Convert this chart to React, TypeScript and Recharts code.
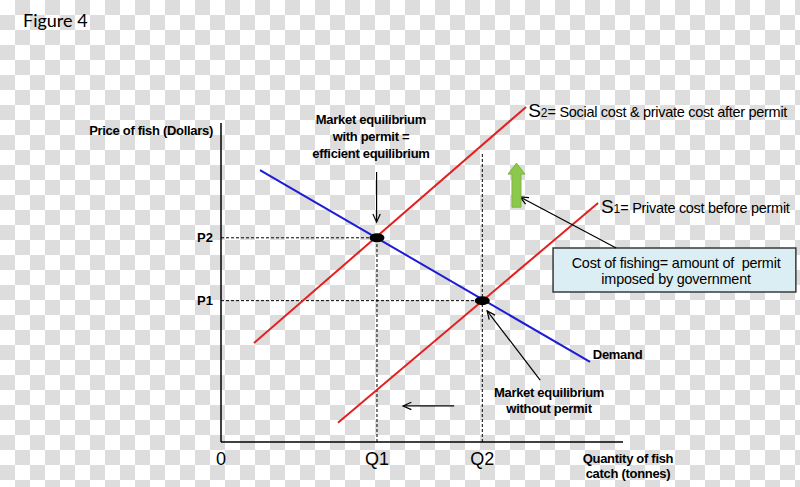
import React from 'react';
import {
  ComposedChart, Line, XAxis, YAxis, ReferenceLine, ReferenceDot, ReferenceArea,
} from 'recharts';

const FONT = '"Liberation Sans", Arial, sans-serif';

// equilibrium quantities / prices
const Q1 = 38.8;
const Q2 = 65;
const P1 = 44.3;
const P2 = 64;

const xTicks = [0, Q1, Q2];
const xTickLabels = ['0', 'Q1', 'Q2'];
const yTicks = [P1, P2];
const yTickLabels = ['P1', 'P2'];

// curve end points (quantity, price)
const demandQ = [9.7, 91.8];
const demandP = [85.2, 25.1];
const s2Q = [8.2, 75.9];
const s2P = [31.0, 105.0];
const s1Q = [29.1, 93.8];
const s1P = [6.0, 74.9];

const toRows = (qs: number[], ps: number[]) => qs.map((q, i) => ({ q, p: ps[i] }));

const demandData = toRows(demandQ, demandP);
const s2Data = toRows(s2Q, s2P);
const s1Data = toRows(s1Q, s1P);

const arrow = (props: any) => {
  const { x1, y1, x2, y2 } = props;
  const a = Math.atan2(y2 - y1, x2 - x1);
  const len = 9;
  const sp = 0.42;
  const pts = [
    [x2 - len * Math.cos(a - sp), y2 - len * Math.sin(a - sp)],
    [x2, y2],
    [x2 - len * Math.cos(a + sp), y2 - len * Math.sin(a + sp)],
  ].map((p) => p.join(',')).join(' ');
  return (
    <g>
      <line x1={x1} y1={y1} x2={x2} y2={y2} stroke="#000" strokeWidth={1.2} />
      <polyline points={pts} fill="none" stroke="#000" strokeWidth={1.2} />
    </g>
  );
};

const blockArrow = (props: any) => {
  const { x1, y1, x2, y2 } = props;
  const sw = 4.5;
  const hw = 8.5;
  const hl = 11;
  const pts = [
    [x2, y2], [x2 + hw, y2 + hl], [x2 + sw, y2 + hl], [x1 + sw, y1],
    [x1 - sw, y1], [x2 - sw, y2 + hl], [x2 - hw, y2 + hl],
  ].map((p) => p.join(',')).join(' ');
  return <polygon points={pts} fill="#8cc84b" stroke="#7db543" strokeWidth={1} />;
};

const ellipse = (props: any) => (
  <ellipse cx={props.cx} cy={props.cy} rx={7.5} ry={4.5} fill="#000" />
);

const textShape = (lines: string[], opts: any = {}) => (props: any) => (
  <text
    x={props.cx}
    y={props.cy}
    textAnchor={opts.anchor || 'middle'}
    fontFamily={FONT}
    fontSize={opts.size || 13}
    fontWeight={opts.weight || 'bold'}
    letterSpacing={opts.ls ?? -0.3}
    fill="#000"
    style={{ whiteSpace: 'pre' }}
  >
    {lines.map((l, i) => (
      <tspan key={i} x={props.cx} dy={i ? opts.lh || 17 : 0}>{l}</tspan>
    ))}
  </text>
);

const supplyLabel = (num: string, rest: string) => (props: any) => (
  <text x={props.cx} y={props.cy} fontFamily={FONT} fill="#000">
    <tspan fontSize={19}>S</tspan>
    <tspan fontSize={12}>{num}</tspan>
    <tspan fontSize={14.5} letterSpacing={-0.3}>{rest}</tspan>
  </text>
);

const checker = {
  backgroundColor: '#fff',
  backgroundImage: 'conic-gradient(#dddddd 25%, #ffffff 0 50%, #dddddd 0 75%, #ffffff 0)',
  backgroundSize: '30px 30px',
};

export default function App() {
  return (
    <div style={{ position: 'absolute', left: 0, top: 0, width: 800, height: 487, ...checker }}>
      <ComposedChart
        width={800}
        height={487}
        margin={{ top: 91, right: 177, bottom: 15, left: 161 }}
      >
        <XAxis
          type="number"
          dataKey="q"
          domain={[0, 100]}
          ticks={xTicks}
          interval={0}
          tickFormatter={(v: number) => xTickLabels[xTicks.indexOf(v)]}
          tickLine={false}
          tickMargin={4}
          axisLine={{ stroke: '#000', strokeWidth: 1.5 }}
          tick={{ fill: '#000', fontSize: 18, fontFamily: FONT }}
          height={30}
        />
        <YAxis
          type="number"
          domain={[0, 110]}
          ticks={yTicks}
          interval={0}
          tickFormatter={(v: number) => yTickLabels[yTicks.indexOf(v)]}
          tickLine={false}
          axisLine={false}
          tick={{ fill: '#000', fontSize: 13, fontWeight: 'bold', fontFamily: FONT }}
          width={60}
        />

        {/* y axis line stops below the top of the plot */}
        <ReferenceLine segment={[{ x: 0, y: 0 }, { x: 0, y: 100 }]} stroke="#000" strokeWidth={1.5} ifOverflow="visible" />

        {/* dashed guides */}
        <ReferenceLine segment={[{ x: 0, y: P2 }, { x: Q1, y: P2 }]} stroke="#000" strokeDasharray="3 2" ifOverflow="visible" />
        <ReferenceLine segment={[{ x: Q1, y: 0 }, { x: Q1, y: P2 }]} stroke="#000" strokeDasharray="3 2" ifOverflow="visible" />
        <ReferenceLine segment={[{ x: 0, y: P1 }, { x: Q2, y: P1 }]} stroke="#000" strokeDasharray="3 2" ifOverflow="visible" />
        <ReferenceLine segment={[{ x: Q2, y: 0 }, { x: Q2, y: 90.9 }]} stroke="#000" strokeDasharray="3 2" ifOverflow="visible" />

        <Line data={demandData} dataKey="p" stroke="#1c1cd6" strokeWidth={2} dot={false} activeDot={false} isAnimationActive={false} />
        <Line data={s2Data} dataKey="p" stroke="#e41f1f" strokeWidth={2} dot={false} activeDot={false} isAnimationActive={false} />
        <Line data={s1Data} dataKey="p" stroke="#e41f1f" strokeWidth={2} dot={false} activeDot={false} isAnimationActive={false} />

        <ReferenceDot x={Q1} y={P2} shape={ellipse} ifOverflow="visible" />
        <ReferenceDot x={Q2} y={P1} shape={ellipse} ifOverflow="visible" />

        {/* annotation box */}
        <ReferenceArea x1={82.6} x2={143} y1={47} y2={60.8} fill="#dbeef4" fillOpacity={1} stroke="#3a3a3a" strokeWidth={1.5} ifOverflow="visible" />
        <ReferenceDot x={113.2} y={54.5} shape={textShape(['Cost of fishing= amount of\u00a0 permit', 'imposed by government'], { lh: 16, weight: 'normal', size: 14.4, ls: -0.2 })} ifOverflow="visible" />

        {/* arrows */}
        <ReferenceLine segment={[{ x: 38.7, y: 84.6 }, { x: 38.7, y: 68.9 }]} shape={arrow} ifOverflow="visible" />
        <ReferenceLine segment={[{ x: 98.3, y: 60.8 }, { x: 74.4, y: 76.8 }]} shape={arrow} ifOverflow="visible" />
        <ReferenceLine segment={[{ x: 79.4, y: 19.4 }, { x: 66.2, y: 41.1 }]} shape={arrow} ifOverflow="visible" />
        <ReferenceLine segment={[{ x: 58, y: 11.3 }, { x: 45.3, y: 11.3 }]} shape={arrow} ifOverflow="visible" />
        <ReferenceLine segment={[{ x: 73.5, y: 73.6 }, { x: 73.5, y: 87.4 }]} shape={blockArrow} ifOverflow="visible" />

        {/* labels */}
        <ReferenceDot x={37.3} y={99.7} shape={textShape(['Market equilibrium', 'with permit =', 'efficient equilibrium'])} ifOverflow="visible" />
        <ReferenceDot x={81.6} y={14.1} shape={textShape(['Market equilibrium', 'without permit'], { lh: 16 })} ifOverflow="visible" />
        <ReferenceDot x={92.5} y={26} shape={textShape(['Demand'], { anchor: 'start' })} ifOverflow="visible" />
        <ReferenceDot x={76.4} y={101.9} shape={supplyLabel('2', '= Social cost & private cost after permit')} ifOverflow="visible" />
        <ReferenceDot x={94.5} y={71.8} shape={supplyLabel('1', '= Private cost before permit')} ifOverflow="visible" />
      </ComposedChart>

      <svg width={800} height={487} style={{ position: 'absolute', left: 0, top: 0, pointerEvents: 'none' }}>
        <text x={23} y={27} fontFamily="Lato, 'Open Sans', sans-serif" fontSize={18} fill="#000">Figure 4</text>
        <text x={213} y={135} textAnchor="end" fontFamily={FONT} fontSize={13} fontWeight="bold" letterSpacing={-0.3} fill="#000">
          Price of fish (Dollars)
        </text>
        <text x={628} y={463} textAnchor="middle" fontFamily={FONT} fontSize={13} fontWeight="bold" letterSpacing={-0.3} fill="#000">
          <tspan x={628}>Quantity of fish</tspan>
          <tspan x={628} dy={15}>catch (tonnes)</tspan>
        </text>
      </svg>
    </div>
  );
}
